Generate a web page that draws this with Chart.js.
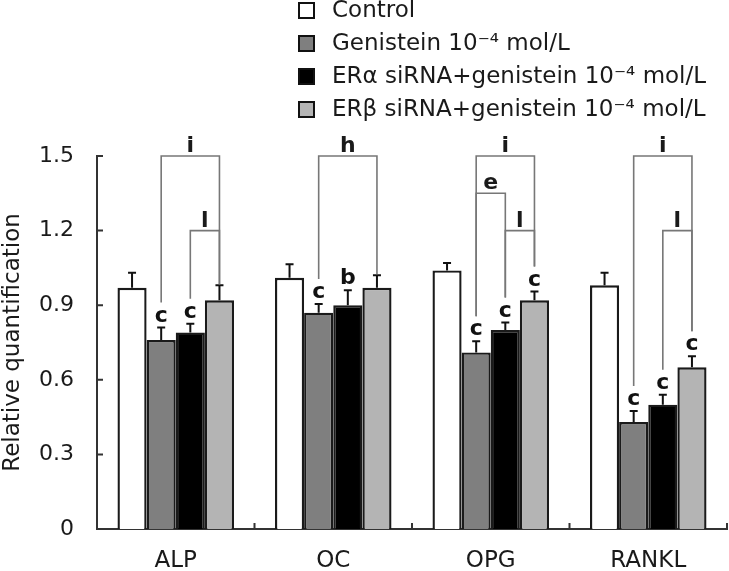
<!DOCTYPE html>
<html>
<head>
<meta charset="utf-8">
<script src="https://cdn.jsdelivr.net/npm/chart.js@4.4.0/dist/chart.umd.min.js"></script>
<style>
  html, body { margin: 0; padding: 0; background: #fff; }
  #wrap { width: 729px; height: 571px; }
</style>
</head>
<body>
<div id="wrap"><canvas id="chart"></canvas></div>
<script>
// ─── DATA ────────────────────────────────────────────────
const categories  = ['ALP', 'OC', 'OPG', 'RANKL'];
const seriesNames = ['Control', 'Genistein 10⁻⁴ mol/L', 'ERα siRNA+genistein 10⁻⁴ mol/L', 'ERβ siRNA+genistein 10⁻⁴ mol/L'];

const controlValues   = [0.97, 1.01, 1.04, 0.98];
const genisteinValues = [0.76, 0.87, 0.71, 0.43];
const eraValues       = [0.79, 0.90, 0.80, 0.50];
const erbValues       = [0.92, 0.97, 0.92, 0.65];

const controlErrors   = [0.06, 0.055, 0.03, 0.05];
const genisteinErrors = [0.05, 0.035, 0.045, 0.045];
const eraErrors       = [0.035, 0.06, 0.03, 0.04];
const erbErrors       = [0.06, 0.05, 0.035, 0.045];

const controlMarks   = ['', '', '', ''];
const genisteinMarks = ['c', 'c', 'c', 'c'];
const eraMarks       = ['c', 'b', 'c', 'c'];
const erbMarks       = ['', '', 'c', 'c'];

const yTicks = [0, 0.3, 0.6, 0.9, 1.2, 1.5];

// [category, from series, to series, level, letter]
const brackets = [
  [0, 1, 3, 1.5, 'i'], [0, 2, 3, 1.2, 'l'],
  [1, 1, 3, 1.5, 'h'],
  [2, 1, 3, 1.5, 'i'], [2, 1, 2, 1.35, 'e'], [2, 2, 3, 1.2, 'l'],
  [3, 1, 3, 1.5, 'i'], [3, 2, 3, 1.2, 'l']
];

// ─── DEFAULTS ────────────────────────────────────────────
Chart.defaults.font.family = "'DejaVu Sans', sans-serif";
Chart.defaults.font.size   = 22;
Chart.defaults.color       = '#1a1a1a';

const FONT = "'DejaVu Sans', sans-serif";
const fills = ['#ffffff', '#7f7f7f', '#000000', '#b4b4b4'];

// ─── ERROR BARS, LETTERS, BRACKETS ───────────────────────
const annotations = {
  id: 'annotations',
  afterDatasetsDraw(chart) {
    const { ctx, scales: { x, y } } = chart;
    const sets = chart.data.datasets;
    const legBottom = {};
    ctx.save();

    sets.forEach((ds, s) => {
      const meta = chart.getDatasetMeta(s);
      meta.data.forEach((bar, c) => {
        const top = y.getPixelForValue(ds.data[c] + ds.errors[c]);
        ctx.strokeStyle = '#111';
        ctx.lineWidth = 2;
        ctx.beginPath();
        ctx.moveTo(bar.x, y.getPixelForValue(ds.data[c]));
        ctx.lineTo(bar.x, top);
        ctx.moveTo(bar.x - 4, top);
        ctx.lineTo(bar.x + 4, top);
        ctx.stroke();

        const mark = ds.marks[c];
        let bottom = top - 1;
        if (mark) {
          ctx.fillStyle = '#111';
          ctx.font = 'bold 22px ' + FONT;
          ctx.textAlign = 'center';
          ctx.textBaseline = 'alphabetic';
          ctx.fillText(mark, bar.x, top - 6);
          bottom = top - 6 - (mark === 'b' ? 17 : 13) - 6;
        }
        legBottom[c + '-' + s] = bottom;
      });
    });

    brackets.forEach(([c, from, to, level, letter]) => {
      const xl = chart.getDatasetMeta(from).data[c].x;
      const xr = chart.getDatasetMeta(to).data[c].x;
      const yl = y.getPixelForValue(level);
      ctx.strokeStyle = '#777';
      ctx.lineWidth = 1.6;
      ctx.beginPath();
      ctx.moveTo(xl, legBottom[c + '-' + from]);
      ctx.lineTo(xl, yl);
      ctx.lineTo(xr, yl);
      ctx.lineTo(xr, legBottom[c + '-' + to]);
      ctx.stroke();
      ctx.fillStyle = '#1a1a1a';
      ctx.font = 'bold 22px ' + FONT;
      ctx.textAlign = 'center';
      ctx.textBaseline = 'alphabetic';
      ctx.fillText(letter, (xl + xr) / 2, yl - 4);
    });

    // inward tick marks
    ctx.strokeStyle = '#333';
    ctx.lineWidth = 2;
    ctx.beginPath();
    yTicks.forEach(v => {
      const py = y.getPixelForValue(v);
      ctx.moveTo(x.left, py);
      ctx.lineTo(x.left + 6, py);
    });
    categories.forEach((_, i) => {
      const px = x.getPixelForValue(i + 0.5);
      ctx.moveTo(px, y.bottom);
      ctx.lineTo(px, y.bottom - 6);
    });
    ctx.stroke();
    ctx.restore();
  }
};

// ─── LEGEND ──────────────────────────────────────────────
const boxLegend = {
  id: 'boxLegend',
  afterDraw(chart) {
    const { ctx } = chart;
    ctx.save();
    chart.data.datasets.forEach((ds, i) => {
      const rowY = 10 + i * 33;
      ctx.fillStyle = ds.backgroundColor;
      ctx.fillRect(299, rowY - 7, 15, 15);
      ctx.strokeStyle = '#111';
      ctx.lineWidth = 2;
      ctx.strokeRect(299, rowY - 7, 15, 15);
      ctx.fillStyle = '#1a1a1a';
      ctx.font = '23px ' + FONT;
      ctx.textAlign = 'left';
      ctx.textBaseline = 'middle';
      ctx.fillText(ds.label, 332, rowY + 1);
    });
    ctx.restore();
  }
};

// ─── BAR CHART ───────────────────────────────────────────
const values = [controlValues, genisteinValues, eraValues, erbValues];
const errors = [controlErrors, genisteinErrors, eraErrors, erbErrors];
const marks  = [controlMarks, genisteinMarks, eraMarks, erbMarks];

new Chart(document.getElementById('chart'), {
  type: 'bar',
  data: {
    labels: categories,
    datasets: seriesNames.map((name, i) => ({
      label: name,
      data: values[i],
      errors: errors[i],
      marks: marks[i],
      backgroundColor: fills[i],
      borderColor: '#1a1a1a',
      borderWidth: 2.4,
      categoryPercentage: 0.74,
      barPercentage: 1.0
    }))
  },
  options: {
    responsive: true,
    maintainAspectRatio: false,
    animation: false,
    layout: { padding: { top: 156, right: 2, left: 0, bottom: 0 } },
    plugins: {
      legend: { display: false },
      tooltip: { enabled: false }
    },
    scales: {
      x: {
        grid: { display: false },
        border: { display: true, color: '#333', width: 2 },
        ticks: { padding: 10, font: { size: 23 }, color: '#1a1a1a' },
        afterFit: scale => { scale.height = 42; }
      },
      y: {
        min: 0,
        max: 1.5,
        grid: { display: false },
        border: { display: true, color: '#333', width: 2 },
        afterBuildTicks: scale => { scale.ticks = yTicks.map(v => ({ value: v })); },
        ticks: {
          padding: 15,
          font: { size: 22 },
          color: '#1a1a1a',
          callback: v => v === 0 ? '0' : v.toFixed(1)
        },
        title: {
          display: true,
          text: 'Relative quantification',
          font: { size: 23, lineHeight: 1 },
          color: '#1a1a1a',
          padding: { top: 2, bottom: 0 }
        },
        afterFit: scale => { scale.width = 97; }
      }
    }
  },
  plugins: [annotations, boxLegend]
});
</script>
</body>
</html>
